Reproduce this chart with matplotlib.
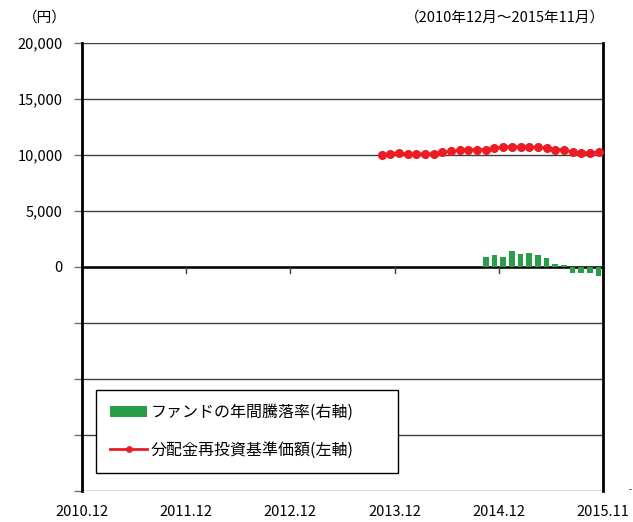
import matplotlib
matplotlib.use("Agg")
import matplotlib.pyplot as plt
import matplotlib.transforms as mtransforms
import numpy as np
import pandas as pd

plt.rcParams['font.family'] = ['Noto Sans CJK JP', 'DejaVu Sans']

# データ
months = [p.strftime('%Y.%m') for p in pd.period_range('2010-12', '2015-11', freq='M')]
tick_labels = ['2010.12', '2011.12', '2012.12', '2013.12', '2014.12', '2015.11']

nav_start = '2013.10'
nav_values = [10010, 10090, 10190, 10020, 10090, 10070, 10090, 10210, 10310, 10400,
              10450, 10450, 10460, 10630, 10670, 10730, 10680, 10670, 10660, 10630,
              10450, 10460, 10200, 10180, 10180, 10220]

ret_start = '2014.10'
ret_values = [4.4, 5.3, 4.5, 7.0, 5.8, 6.0, 5.4, 4.0, 1.2, 0.6, -2.7, -2.7, -2.8, -4.0]

left_ticks = [-20000, -15000, -10000, -5000, 0, 5000, 10000, 15000, 20000]

C_RED = '#EC1C24'
C_GREEN = '#2A9D48'
C_GRID = '#404040'

fig = plt.figure(figsize=(6.33, 5.22), dpi=100)
ax = fig.add_axes([82 / 633, 1 - 490.7 / 522, 521 / 633, 448 / 522])

n = len(months)
i0 = months.index(nav_start)
x_nav = np.arange(i0, i0 + len(nav_values)) + 0.5
j0 = months.index(ret_start)
x_ret = np.arange(j0, j0 + len(ret_values)) + 0.5

ax.set_xlim(0, n)
ax.set_ylim(-20000, 20000)
ax.set_yticks(left_ticks)
ax.set_yticklabels([f"{v:,}" if v >= 0 else "" for v in left_ticks], fontsize=10.5)
ax.yaxis.grid(True, color=C_GRID, lw=1.0)
ax.set_axisbelow(True)
ax.tick_params(axis='y', direction='out', length=6, width=1.0, color='#707070',
               left=True, right=True, labelright=False, pad=8)

for s in ['top', 'bottom']:
    ax.spines[s].set_visible(False)
for s in ['left', 'right']:
    ax.spines[s].set_linewidth(2.0)
    ax.spines[s].set_color('black')

ax.axhline(0, color='black', lw=1.8, zorder=2)

# x目盛（ゼロ線上に下向き）
xt = [months.index(m) for m in tick_labels[:-1]] + [n]
ax.set_xticks(xt)
ax.tick_params(axis='x', bottom=False, labelbottom=False)
for xv in xt:
    ax.plot([xv, xv], [0, -520], color='#404040', lw=1.0, zorder=2, clip_on=False)
trans = mtransforms.blended_transform_factory(ax.transData, ax.transAxes)
for xv, lab in zip(xt, tick_labels):
    ax.text(xv, -0.032, lab, transform=trans, ha='center', va='top', fontsize=10.5)

line, = ax.plot(x_nav, nav_values, color=C_RED, lw=2.0, marker='o', markersize=5.5,
                zorder=4)

ax2 = ax.twinx()
ax2.set_ylim(-100, 100)
ax2.set_yticks([])
for s in ax2.spines.values():
    s.set_visible(False)
bars = ax2.bar(x_ret, ret_values, width=0.65, color=C_GREEN, zorder=3)

leg = ax2.legend([bars, line], ['ファンドの年間騰落率(右軸)', '分配金再投資基準価額(左軸)'],
                 loc='upper left', bbox_to_anchor=(0.027, 0.0395, 0.58, 0.1855),
                 mode='expand', fontsize=11.5, markerscale=0.7,
                 frameon=True, fancybox=False, edgecolor='black', framealpha=1,
                 borderpad=0.9, labelspacing=1.3, handlelength=2.3, handleheight=0.7,
                 handletextpad=0.2, borderaxespad=0)
leg.get_frame().set_linewidth(1.0)
leg.set_zorder(10)

fig.text(45 / 633, 1 - 18 / 522, '（円）', ha='center', va='center', fontsize=10.5)
fig.text(605 / 633, 1 - 18 / 522, '（2010年12月～2015年11月）', ha='right', va='center',
         fontsize=10.5)
fig.text(630 / 633, 1 - 490 / 522, '-', ha='center', va='center', fontsize=6)

fig.savefig('out.png', dpi=100)
